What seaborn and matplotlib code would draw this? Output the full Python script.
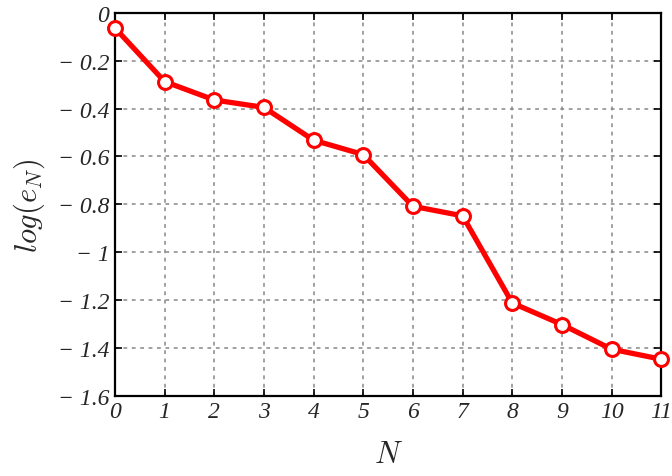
import matplotlib
matplotlib.use("Agg")
import matplotlib.pyplot as plt
import seaborn as sns
import pandas as pd
import numpy as np

N_values = [0, 1, 2, 3, 4, 5, 6, 7, 8, 9, 10, 11]
log_e = [-0.063, -0.287, -0.364, -0.395, -0.532, -0.592, -0.808, -0.848, -1.212, -1.302, -1.405, -1.447]
x_ticks = [0, 1, 2, 3, 4, 5, 6, 7, 8, 9, 10, 11]
y_ticks = [0, -0.2, -0.4, -0.6, -0.8, -1.0, -1.2, -1.4, -1.6]
y_tick_labels = ["0", "-0.2", "-0.4", "-0.6", "-0.8", "-1", "-1.2", "-1.4", "-1.6"]

sns.set_style("ticks")
plt.rcParams['mathtext.fontset'] = 'cm'
plt.rcParams['font.family'] = ['serif']
plt.rcParams['font.serif'] = ['Liberation Serif', 'DejaVu Serif']

df = pd.DataFrame({"N": N_values, "log_e": log_e})

fig = plt.figure(figsize=(6.72, 4.77), dpi=100)
ax = fig.add_axes([0.171, 0.168, 0.813, 0.803])

sns.lineplot(data=df, x="N", y="log_e", ax=ax, color="#ff0000", linewidth=3.8,
             marker="o", markersize=10, markerfacecolor="white",
             markeredgecolor="#ff0000", markeredgewidth=2.2, zorder=5, clip_on=False)

ax.set_xlim(0, 11)
ax.set_ylim(-1.6, 0)

def fmt(s):
    if s.startswith("-"):
        return "\u2212 " + s[1:]
    return s

ax.set_xticks(x_ticks)
ax.set_xticklabels([fmt(str(v)) for v in x_ticks], fontsize=17, fontstyle="italic",
                   fontfamily="Liberation Serif")
ax.set_yticks(y_ticks)
ax.set_yticklabels([fmt(s) for s in y_tick_labels], fontsize=17, fontstyle="italic",
                   fontfamily="Liberation Serif")

ax.tick_params(direction="in", length=5, width=1.2, color="black", top=True, right=True, pad=4)
ax.grid(True, color="#888888", linestyle=(0, (2.5, 3)), linewidth=1.1)

for sp in ax.spines.values():
    sp.set_linewidth(1.6)
    sp.set_color("black")
    sp.set_visible(True)

ax.set_xlabel(r"$N$", fontsize=22, labelpad=13)
ax.set_ylabel(r"$log(e_N)$", fontsize=22, labelpad=8)

fig.savefig("out.png", dpi=100)
